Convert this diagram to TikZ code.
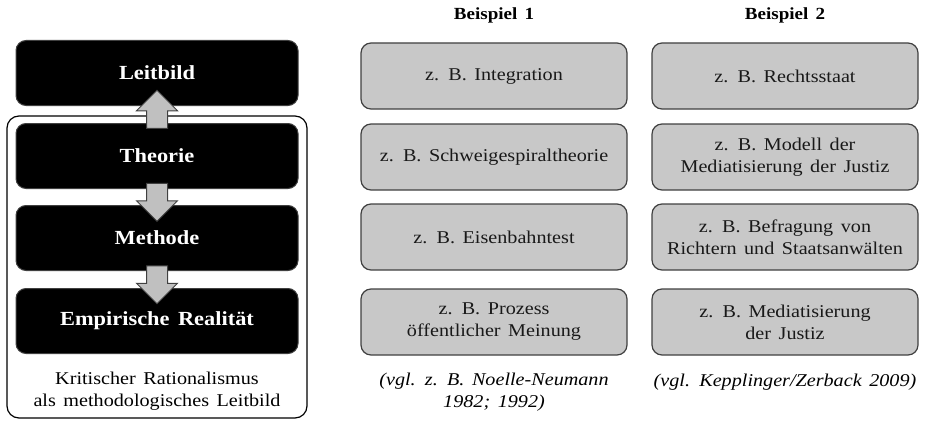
\documentclass[tikz,border=0pt]{standalone}
\usepackage{fontspec}
\setmainfont{Liberation Serif}[FakeStretch=1.12, WordSpace=1.5]
\usepackage{xcolor}
\usepackage{tikz}
\usetikzlibrary{positioning, calc, shapes.arrows}
\definecolor{boxgray}{RGB}{200,200,200}
\definecolor{arrowgray}{RGB}{192,192,192}
\definecolor{edgegray}{RGB}{64,64,64}

\begin{document}
\begin{tikzpicture}[x=1pt, y=-1pt, font=\fontsize{18}{22}\selectfont, every node/.style={inner sep=2pt},
  darkbox/.style={rectangle, rounded corners=10pt, fill=black, draw=edgegray, line width=1pt, minimum width=282pt, minimum height=65pt, text=white, font=\fontsize{20}{24}\selectfont\bfseries},
  graybox/.style={rectangle, rounded corners=10pt, fill=boxgray, draw=edgegray, line width=1.2pt, minimum width=266pt, minimum height=66pt, align=center, text=black!90},
  blockarrow/.style={single arrow, fill=arrowgray, draw=edgegray, line width=1pt, inner sep=10pt, single arrow head extend=10pt, single arrow tip angle=90, minimum height=38pt},
  cite/.style={align=center, font=\fontsize{18}{22}\selectfont\itshape},
  coltitle/.style={font=\fontsize{17}{20}\selectfont\bfseries}]
  \useasboundingbox (0,0) rectangle (925,420);

  % left column
  \node[draw, rounded corners=12pt, line width=1.2pt, minimum width=300pt, minimum height=302pt] (frame) at (157,267) {};
  \node[darkbox] (leit) at (157,73) {Leitbild};
  \node[darkbox] (theo) at (157,156) {Theorie};
  \node[darkbox] (meth) at (157,238) {Methode};
  \node[darkbox] (emp) at (157,321) {Empirische Realität};
  \node[blockarrow, shape border rotate=90] (a1) at ($(theo.north)!0.5!(leit.south)$) {};
  \node[blockarrow, shape border rotate=270] (a2) at ($(theo.south)!0.5!(meth.north)$) {};
  \node[blockarrow, shape border rotate=270] (a3) at ($(meth.south)!0.5!(emp.north)$) {};
  \node[align=center] (kr) at (157,391) {Kritischer Rationalismus\\als methodologisches Leitbild};

  % example 1
  \node[coltitle] (bsp1) at (494,15) {Beispiel 1};
  \node[graybox] (b11) at (494,76) {z. B. Integration};
  \node[graybox] (b12) at (494,157) {z. B. Schweigespiraltheorie};
  \node[graybox] (b13) at (494,237) {z. B. Eisenbahntest};
  \node[graybox] (b14) at (494,322) {z. B. Prozess\\öffentlicher Meinung};
  \node[cite] (c1) at (494,392) {(vgl. z. B. Noelle-Neumann\\1982; 1992)};

  % example 2
  \node[coltitle] (bsp2) at (785,15) {Beispiel 2};
  \node[graybox] (b21) at (785,76) {z. B. Rechtsstaat};
  \node[graybox] (b22) at (785,157) {z. B. Modell der\\Mediatisierung der Justiz};
  \node[graybox] (b23) at (785,237) {z. B. Befragung von\\Richtern und Staatsanwälten};
  \node[graybox] (b24) at (785,322) {z. B. Mediatisierung\\der Justiz};
  \node[cite] (c2) at (785,382) {(vgl. Kepplinger/Zerback 2009)};
\end{tikzpicture}
\end{document}
